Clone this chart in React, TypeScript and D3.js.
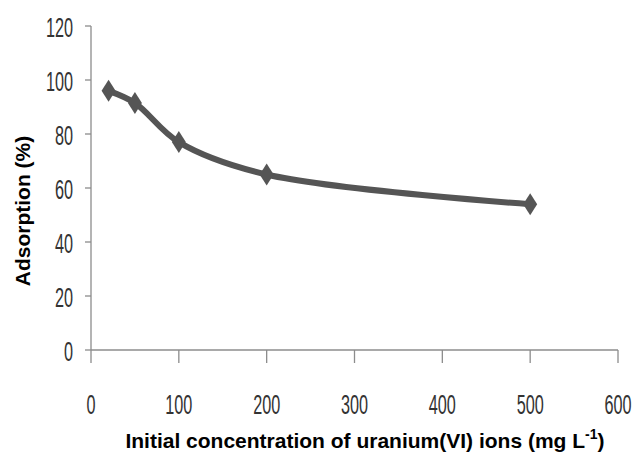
import React from "react";
import * as d3 from "d3";

// values
const concentration = [20, 50, 100, 200, 500];
const adsorption = [96, 91.5, 77, 65, 54];
const xTicks = [0, 100, 200, 300, 400, 500, 600];
const yTicks = [0, 20, 40, 60, 80, 100, 120];

const W = 633;
const H = 455;

export default function App() {
  const x = d3.scaleLinear().domain([0, 600]).range([91, 618]);
  const y = d3.scaleLinear().domain([0, 120]).range([350, 26]);

  const pts = concentration.map((c, i) => [x(c), y(adsorption[i])] as [number, number]);
  const line = d3.line().curve(d3.curveCatmullRom.alpha(0.5))(pts) || "";

  const tickFont = "'Liberation Sans', Arial, sans-serif";
  const lineColor = "#555555";
  const axisColor = "#8c8c8c";

  return (
    <svg
      width={W}
      height={H}
      style={{ position: "absolute", left: 0, top: 0, background: "#fff" }}
    >
      {/* y axis */}
      <line x1={x(0)} x2={x(0)} y1={y(120)} y2={y(0)} stroke={axisColor} strokeWidth={1.3} />
      {yTicks.map((t) => (
        <g key={"y" + t}>
          <line x1={x(0) - 6} x2={x(0)} y1={y(t)} y2={y(t)} stroke={axisColor} strokeWidth={1.3} />
          <text
            transform={`translate(73,${y(t) + 11}) scale(0.58,1)`}
            textAnchor="end"
            fontFamily={tickFont}
            fontSize={28}
            fill="#333"
          >
            {t}
          </text>
        </g>
      ))}

      {/* x axis */}
      <line x1={x(0)} x2={x(600)} y1={y(0)} y2={y(0)} stroke={axisColor} strokeWidth={1.3} />
      {xTicks.map((t) => (
        <g key={"x" + t}>
          <line x1={x(t)} x2={x(t)} y1={y(0)} y2={y(0) + 13} stroke={axisColor} strokeWidth={1.3} />
          <text
            transform={`translate(${x(t)},414) scale(0.58,1)`}
            textAnchor="middle"
            fontFamily={tickFont}
            fontSize={28}
            fill="#333"
          >
            {t}
          </text>
        </g>
      ))}

      {/* series */}
      <path d={line} fill="none" stroke={lineColor} strokeWidth={6} strokeLinejoin="round" />
      {pts.map(([px, py], i) => (
        <path
          key={"m" + i}
          d={`M${px},${py - 11}L${px + 7},${py}L${px},${py + 11}L${px - 7},${py}Z`}
          fill={lineColor}
        />
      ))}

      {/* axis titles */}
      <text
        transform="translate(30,211) rotate(-90)"
        textAnchor="middle"
        fontFamily="'Liberation Sans', Arial, sans-serif"
        fontWeight="bold"
        fontSize={21}
        fill="#000"
      >
        Adsorption (%)
      </text>
      <text
        x={365}
        y={448}
        textAnchor="middle"
        fontFamily="'Liberation Sans', Arial, sans-serif"
        fontWeight="bold"
        fontSize={21}
        fill="#000"
      >
        Initial concentration of uranium(VI) ions (mg L
        <tspan dy={-9} fontSize={14}>-1</tspan>
        <tspan dy={9}>)</tspan>
      </text>
    </svg>
  );
}
